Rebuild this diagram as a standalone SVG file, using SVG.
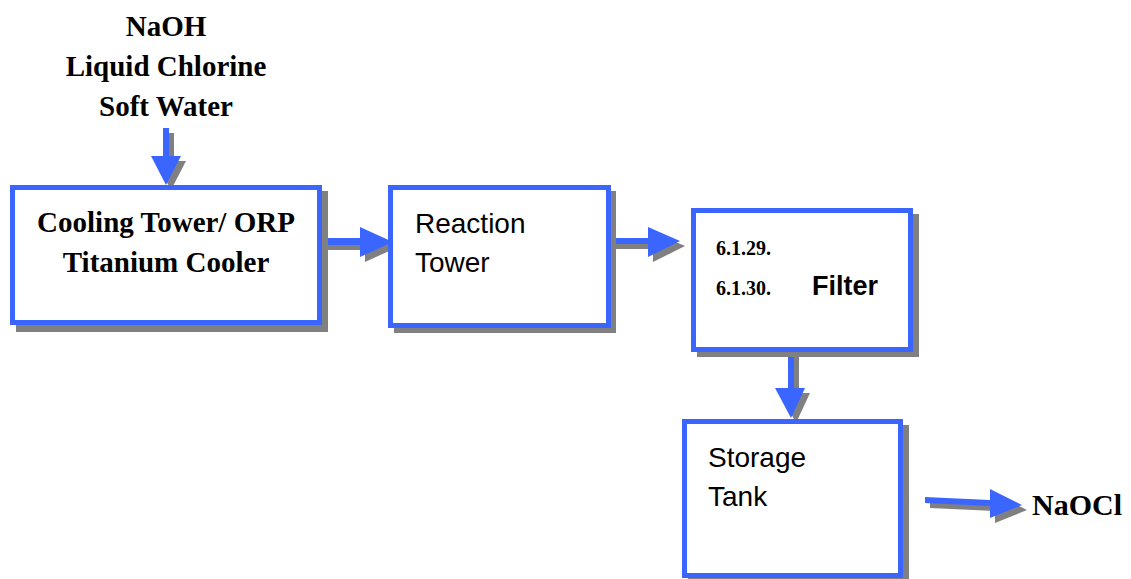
<svg xmlns="http://www.w3.org/2000/svg" width="1131" height="579" viewBox="0 0 1131 579">
<style>
.box{fill:#fff;stroke:#3A66FF;stroke-width:5}
.shadow{fill:#808080}
.arr{fill:#3A66FF}
.ash{fill:#808080}
.tb{font-family:"Liberation Serif","Times New Roman",serif;font-weight:bold;fill:#000}
.ts{font-family:"Liberation Sans",Arial,sans-serif;fill:#000}
</style>
<rect width="1131" height="579" fill="#fff"/>
<g id="connectors">
  <!-- feed arrow -->
  <polygon class="ash" points="168,133 174,133 174,161 186,161 171,190 156,161 168,161"/>
  <polygon class="arr" points="163,128 169,128 169,156 181,156 166,185 151,156 163,156"/>
  <!-- box1 to box2 -->
  <polygon class="ash" points="327,243 365,243 365,232 398,247 365,262 365,250 327,250"/>
  <polygon class="arr" points="322,238 360,238 360,227 393,242 360,257 360,245 322,245"/>
  <!-- box2 to box3 -->
  <polygon class="ash" points="616,243 653,243 653,232 685,246 653,262 653,249 616,249"/>
  <polygon class="arr" points="611,238 648,238 648,227 680,241 648,257 648,244 611,244"/>
  <!-- box3 to box4 -->
  <polygon class="ash" points="793,357 799,357 799,393 810,393 796,423 780,393 793,393"/>
  <polygon class="arr" points="788,352 794,352 794,388 805,388 791,418 775,388 788,388"/>
  <!-- to NaOCl -->
  <polygon class="ash" points="930,502 995,505 995,494 1027,510 995,523 995,511 930,508"/>
  <polygon class="arr" points="925,497 990,500 990,489 1022,505 990,518 990,506 925,503"/>
</g>
<g id="feed-label">
  <text class="tb" font-size="29" text-anchor="middle" x="166" y="36">NaOH</text>
  <text class="tb" font-size="29" text-anchor="middle" x="166" y="76">Liquid Chlorine</text>
  <text class="tb" font-size="29" text-anchor="middle" x="166" y="116">Soft Water</text>
</g>
<g id="cooling-tower">
  <rect class="shadow" x="16" y="191" width="312" height="141"/>
  <rect class="box" x="12.5" y="187.5" width="307" height="135"/>
  <text class="tb" font-size="29" text-anchor="middle" x="166" y="232">Cooling Tower/ ORP</text>
  <text class="tb" font-size="29" text-anchor="middle" x="166" y="272">Titanium Cooler</text>
</g>
<g id="reaction-tower">
  <rect class="shadow" x="394" y="191" width="222" height="142"/>
  <rect class="box" x="390.5" y="187.5" width="218" height="138"/>
  <text class="ts" font-size="28" x="415" y="233">Reaction</text>
  <text class="ts" font-size="28" x="415" y="272">Tower</text>
</g>
<g id="filter">
  <rect class="shadow" x="697" y="214" width="222" height="143"/>
  <rect class="box" x="693.5" y="210.5" width="217" height="139"/>
  <text class="tb" font-size="20" x="716" y="255">6.1.29.</text>
  <text class="tb" font-size="20" x="716" y="295">6.1.30.</text>
  <text class="ts" font-size="27" font-weight="bold" x="812" y="295">Filter</text>
</g>
<g id="storage-tank">
  <rect class="shadow" x="688" y="425" width="221" height="160"/>
  <rect class="box" x="684.5" y="421.5" width="216" height="154"/>
  <text class="ts" font-size="28" x="708" y="467">Storage</text>
  <text class="ts" font-size="28" x="708" y="506">Tank</text>
</g>
<g id="product-label">
  <text class="tb" font-size="30" x="1032" y="515">NaOCl</text>
</g>
</svg>
